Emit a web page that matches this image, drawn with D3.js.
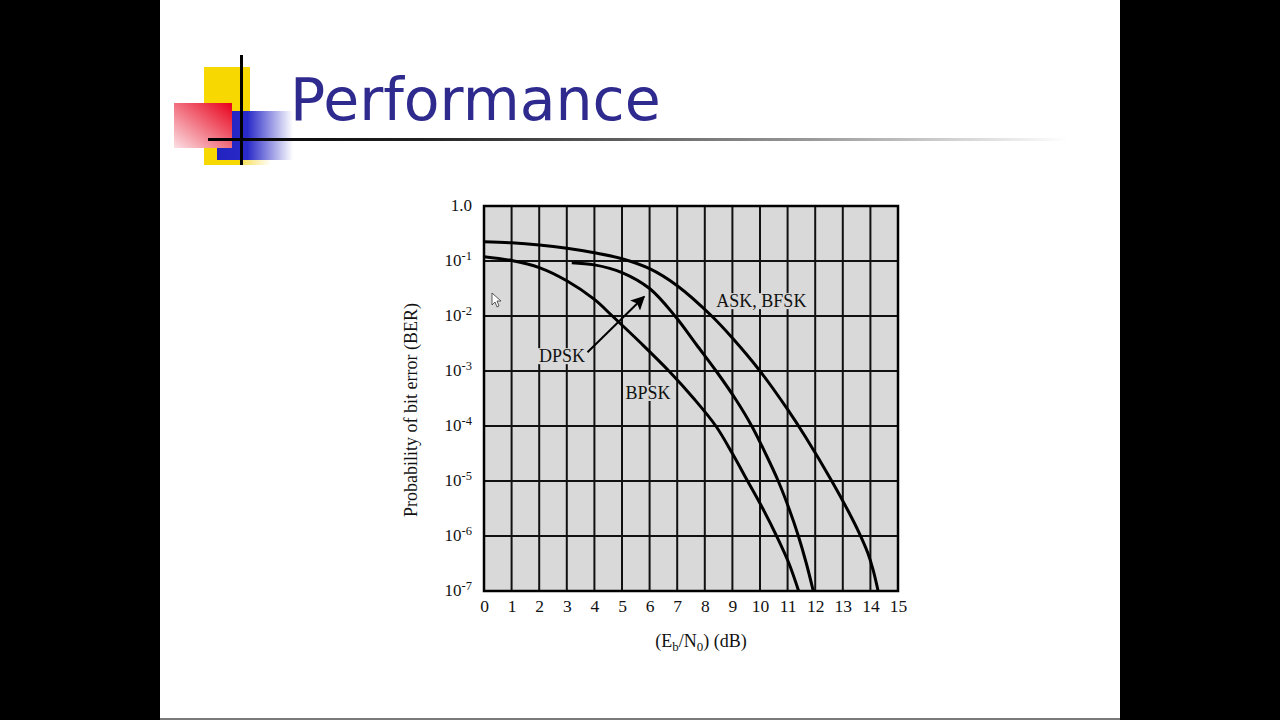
<!DOCTYPE html>
<html>
<head>
<meta charset="utf-8">
<script src="https://cdn.jsdelivr.net/npm/d3@7"></script>
<style>
  html, body { margin: 0; padding: 0; background: #000; }
  svg { display: block; }
</style>
</head>
<body>
<script>
// ---------- data ----------
const xTicks = [0,1,2,3,4,5,6,7,8,9,10,11,12,13,14,15];
const yTickExps = [0,-1,-2,-3,-4,-5,-6,-7];

const bpskEbN0 = [0, 1, 2, 3, 4, 4.65, 5.7, 6.7, 7.6, 8.4, 9.0, 9.55, 10.1, 10.6, 11.05, 11.4];
const bpskBER  = [0.120, 0.102, 0.0759, 0.0437, 0.0200, 1e-2, 3.16e-3, 1e-3, 3.16e-4, 1e-4, 3.16e-5, 1e-5, 3.16e-6, 1e-6, 3.16e-7, 1e-7];

const dpskEbN0 = [3.18, 4, 5, 6, 6.92, 7.7, 8.41, 9.1, 9.7, 10.2, 10.66, 11.05, 11.39, 11.68, 11.93];
const dpskBER  = [0.093, 0.085, 0.0617, 0.0316, 1e-2, 3.0e-3, 1e-3, 3.16e-4, 1e-4, 3.16e-5, 1e-5, 3.16e-6, 1e-6, 3.16e-7, 1e-7];

const askEbN0 = [0, 1, 2, 3, 4, 5, 6, 7, 8.25, 9, 10, 11, 11.65, 12.6, 13.2, 13.6, 13.9, 14.1, 14.28];
const askBER  = [0.224, 0.214, 0.195, 0.170, 0.141, 0.110, 0.0724, 0.0355, 1e-2, 3.98e-3, 1e-3, 2.0e-4, 6.3e-5, 1e-5, 2.82e-6, 1.12e-6, 5.0e-7, 2.4e-7, 1e-7];

const seriesNames = ["BPSK", "DPSK", "ASK, BFSK"];

// ---------- drawing ----------
const W = 1280, H = 720;
const svg = d3.select("body").append("svg").attr("width", W).attr("height", H);
const defs = svg.append("defs");

// slide background
svg.append("rect").attr("x", 0).attr("y", 0).attr("width", W).attr("height", H).attr("fill", "#000");
svg.append("rect").attr("x", 160).attr("y", 0).attr("width", 960).attr("height", H).attr("fill", "#fff");
svg.append("line").attr("x1", 160).attr("x2", 1120).attr("y1", 719).attr("y2", 719).attr("stroke", "#7a7a7a").attr("stroke-width", 2);

// logo decoration
const gRed = defs.append("linearGradient").attr("id", "gRed").attr("x1", "100%").attr("y1", "0%").attr("x2", "0%").attr("y2", "100%");
gRed.append("stop").attr("offset", "0%").attr("stop-color", "#e8001a");
gRed.append("stop").attr("offset", "100%").attr("stop-color", "#fbe0e4");
const gBlue = defs.append("linearGradient").attr("id", "gBlue").attr("x1", "0%").attr("y1", "0%").attr("x2", "100%").attr("y2", "0%");
gBlue.append("stop").attr("offset", "0%").attr("stop-color", "#2222c0");
gBlue.append("stop").attr("offset", "40%").attr("stop-color", "#2a2ac8");
gBlue.append("stop").attr("offset", "100%").attr("stop-color", "#ffffff");
const gLine = defs.append("linearGradient").attr("id", "gLine").attr("x1", "0%").attr("y1", "0%").attr("x2", "100%").attr("y2", "0%");
gLine.append("stop").attr("offset", "0%").attr("stop-color", "#000");
gLine.append("stop").attr("offset", "25%").attr("stop-color", "#222");
gLine.append("stop").attr("offset", "70%").attr("stop-color", "#999");
gLine.append("stop").attr("offset", "100%").attr("stop-color", "#fff");
const gYel2 = defs.append("linearGradient").attr("id", "gYel2").attr("x1", "0%").attr("y1", "0%").attr("x2", "100%").attr("y2", "0%");
gYel2.append("stop").attr("offset", "0%").attr("stop-color", "#f7e060");
gYel2.append("stop").attr("offset", "100%").attr("stop-color", "#ffffff");

svg.append("rect").attr("x", 204).attr("y", 67).attr("width", 46).attr("height", 98).attr("fill", "#f7d800");
svg.append("rect").attr("x", 243).attr("y", 158).attr("width", 28).attr("height", 7).attr("fill", "url(#gYel2)");
svg.append("rect").attr("x", 217).attr("y", 111).attr("width", 76).attr("height", 49).attr("fill", "url(#gBlue)");
svg.append("rect").attr("x", 174).attr("y", 103).attr("width", 58).attr("height", 45).attr("fill", "url(#gRed)");
svg.append("rect").attr("x", 208).attr("y", 138).attr("width", 860).attr("height", 3).attr("fill", "url(#gLine)");
svg.append("rect").attr("x", 240).attr("y", 55).attr("width", 3).attr("height", 110).attr("fill", "#000");

svg.append("text").attr("x", 290).attr("y", 120)
  .attr("font-family", "DejaVu Sans, Verdana, sans-serif").attr("font-size", 58.5)
  .attr("fill", "#2e2a8e").text("Performance");

// chart
const x = d3.scaleLinear().domain([0, 15]).range([484, 898]);
const y = d3.scaleLog().domain([1e-7, 1]).range([591, 206]);
const serif = "Liberation Serif, Times New Roman, serif";
const bg = "#d9d9d9";

svg.append("rect").attr("x", x(0)).attr("y", y(1)).attr("width", x(15) - x(0)).attr("height", y(1e-7) - y(1)).attr("fill", bg);

const grid = svg.append("g").attr("stroke", "#111").attr("stroke-width", 2);
grid.selectAll("line.v").data(xTicks.slice(1, -1)).join("line")
  .attr("x1", d => x(d)).attr("x2", d => x(d)).attr("y1", y(1)).attr("y2", y(1e-7));
grid.selectAll("line.h").data(yTickExps.slice(1, -1)).join("line")
  .attr("y1", d => y(Math.pow(10, d))).attr("y2", d => y(Math.pow(10, d))).attr("x1", x(0)).attr("x2", x(15));

// cursor artifact
svg.append("path").attr("d", "M492,293 L492,305 L495,302 L497,307 L499,306 L497,301 L501,301 Z")
  .attr("fill", "#fff").attr("stroke", "#333").attr("stroke-width", 0.8);

// curves
const line = d3.line().x(d => x(d[0])).y(d => y(d[1])).curve(d3.curveCatmullRom.alpha(0.5));
const series = [
  d3.zip(bpskEbN0, bpskBER),
  d3.zip(dpskEbN0, dpskBER),
  d3.zip(askEbN0, askBER)
];
svg.append("g").selectAll("path").data(series).join("path")
  .attr("d", line).attr("fill", "none").attr("stroke", "#000").attr("stroke-width", 3);

// frame
svg.append("rect").attr("x", x(0)).attr("y", y(1)).attr("width", x(15) - x(0)).attr("height", y(1e-7) - y(1))
  .attr("fill", "none").attr("stroke", "#000").attr("stroke-width", 2.5);

// x axis
const xAxis = svg.append("g").attr("transform", `translate(0,${y(1e-7)})`)
  .call(d3.axisBottom(x).tickValues(xTicks).tickSize(0).tickPadding(9).tickFormat(d3.format("d")));
xAxis.select(".domain").remove();
xAxis.selectAll("text").attr("font-family", serif).attr("font-size", 17.5).attr("fill", "#111");

// y tick labels
const yl = svg.append("g").attr("font-family", serif).attr("font-size", 17).attr("fill", "#111");
yTickExps.forEach(e => {
  const t = yl.append("text").attr("x", 472).attr("y", y(Math.pow(10, e)) + 5).attr("text-anchor", "end");
  if (e === 0) { t.text("1.0"); }
  else {
    t.append("tspan").text("10");
    t.append("tspan").attr("font-size", 12.5).attr("dy", -6).text(String(e));
  }
});

// axis titles
const xt = svg.append("text").attr("x", 701).attr("y", 647).attr("text-anchor", "middle")
  .attr("font-family", serif).attr("font-size", 18).attr("fill", "#111");
xt.append("tspan").text("(E");
xt.append("tspan").attr("font-size", 13).attr("dy", 4).text("b");
xt.append("tspan").attr("dy", -4).text("/N");
xt.append("tspan").attr("font-size", 13).attr("dy", 4).text("0");
xt.append("tspan").attr("dy", -4).text(") (dB)");

svg.append("text").attr("transform", "translate(417,410) rotate(-90)").attr("text-anchor", "middle")
  .attr("font-family", serif).attr("font-size", 18).attr("fill", "#111").text("Probability of bit error (BER)");

// annotations
const labels = [
  { name: seriesNames[2], ex: 10.05, ber: Math.pow(10, -1.73) },
  { name: seriesNames[1], ex: 2.83, ber: Math.pow(10, -2.73) },
  { name: seriesNames[0], ex: 5.94, ber: Math.pow(10, -3.4) }
];
const ann = svg.append("g");
labels.forEach(l => {
  const t = ann.append("text").attr("x", x(l.ex)).attr("y", y(l.ber) + 6).attr("text-anchor", "middle")
    .attr("font-family", serif).attr("font-size", 18).attr("fill", "#111").text(l.name);
  const bb = t.node().getBBox();
  ann.insert("rect", "text").attr("x", bb.x - 2).attr("y", bb.y + 2).attr("width", bb.width + 4).attr("height", bb.height - 4).attr("fill", bg);
});

// arrow DPSK
defs.append("marker").attr("id", "arr").attr("viewBox", "0 0 10 10").attr("refX", 9).attr("refY", 5)
  .attr("markerWidth", 14).attr("markerHeight", 14).attr("markerUnits", "userSpaceOnUse").attr("orient", "auto")
  .append("path").attr("d", "M0,0 L10,5 L0,10 L2,5 Z").attr("fill", "#000");
svg.append("line").attr("x1", x(3.75)).attr("y1", y(Math.pow(10, -2.66)))
  .attr("x2", x(5.8)).attr("y2", y(Math.pow(10, -1.65)))
  .attr("stroke", "#000").attr("stroke-width", 2).attr("marker-end", "url(#arr)");
</script>
</body>
</html>
